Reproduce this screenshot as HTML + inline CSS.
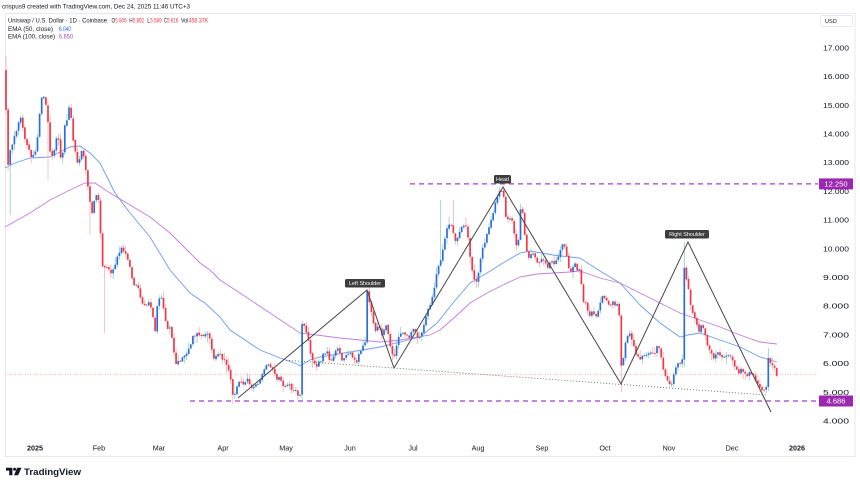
<!DOCTYPE html>
<html><head><meta charset="utf-8">
<style>
html,body{margin:0;padding:0;background:#fff;width:860px;height:486px;overflow:hidden;}
svg{display:block;font-family:"Liberation Sans",Arial,sans-serif;}
</style></head><body>
<svg id="c" width="860" height="486" viewBox="0 0 860 486" xmlns="http://www.w3.org/2000/svg">
<rect width="860" height="486" fill="#fff"/>
<text x="2" y="8.5" font-size="6.5" fill="#131722" textLength="188" lengthAdjust="spacingAndGlyphs">crispus9 created with TradingView.com, Dec 24, 2025 11:46 UTC+3</text>
<rect x="5.5" y="13.5" width="849.5" height="443" fill="none" stroke="#e6e8ee" stroke-width="1"/>

<!-- legend -->
<g font-size="6" fill="#131722">
<text x="8" y="22.5" textLength="99" lengthAdjust="spacingAndGlyphs">Uniswap / U.S. Dollar · 1D · Coinbase</text>
<text x="111.5" y="22.5" textLength="3.6" lengthAdjust="spacingAndGlyphs">O</text>
<text x="115.3" y="22.5" fill="#f23645" textLength="11.3" lengthAdjust="spacingAndGlyphs">5.806</text>
<text x="129.3" y="22.5" textLength="3.4" lengthAdjust="spacingAndGlyphs">H</text>
<text x="132.9" y="22.5" fill="#f23645" textLength="11.3" lengthAdjust="spacingAndGlyphs">5.862</text>
<text x="147.3" y="22.5" textLength="2.8" lengthAdjust="spacingAndGlyphs">L</text>
<text x="150.3" y="22.5" fill="#f23645" textLength="11.3" lengthAdjust="spacingAndGlyphs">5.589</text>
<text x="164" y="22.5" textLength="3" lengthAdjust="spacingAndGlyphs">C</text>
<text x="167" y="22.5" fill="#f23645" textLength="11.3" lengthAdjust="spacingAndGlyphs">5.616</text>
<text x="181" y="22.5" textLength="7.2" lengthAdjust="spacingAndGlyphs">Vol</text>
<text x="188.5" y="22.5" fill="#f23645" textLength="19.8" lengthAdjust="spacingAndGlyphs">458.37K</text>
<text x="8" y="30.8" textLength="45" lengthAdjust="spacingAndGlyphs">EMA (50, close)</text>
<text x="59" y="30.8" fill="#2962ff" textLength="12" lengthAdjust="spacingAndGlyphs">6.040</text>
<text x="8" y="38.6" textLength="47" lengthAdjust="spacingAndGlyphs">EMA (100, close)</text>
<text x="59" y="38.6" fill="#ab47bc" textLength="14" lengthAdjust="spacingAndGlyphs">6.650</text>
</g>

<!-- USD box -->
<rect x="820.5" y="15.5" width="32" height="11" rx="2" fill="#fff" stroke="#e6e8ee"/>
<text x="825" y="23" font-size="5.6" fill="#131722">USD</text>

<!-- y axis labels -->
<g font-size="7.6" fill="#131722" id="yax"></g>

<!-- time axis -->
<g font-size="7.2" fill="#131722" text-anchor="middle">
<text x="35" y="450.5" font-weight="bold">2025</text>
<text x="99" y="450.5">Feb</text>
<text x="159" y="450.5">Mar</text>
<text x="223" y="450.5">Apr</text>
<text x="286" y="450.5">May</text>
<text x="350" y="450.5">Jun</text>
<text x="413" y="450.5">Jul</text>
<text x="478" y="450.5">Aug</text>
<text x="542" y="450.5">Sep</text>
<text x="605" y="450.5">Oct</text>
<text x="669" y="450.5">Nov</text>
<text x="732" y="450.5">Dec</text>
<text x="797" y="450.5" font-weight="bold">2026</text>
</g>

<!-- current price line -->
<line x1="5" y1="374.3" x2="818" y2="374.3" stroke="#f7a1a8" stroke-width="0.8" stroke-dasharray="1,1.5"/>

<!-- EMA lines -->
<polyline fill="none" stroke="#c27ddc" stroke-width="0.9" points="5,227 30,213 50,200 70,190 85,183 95,183 110,193 130,205 150,217 170,233 190,253 200,263 210,270 220,280 240,293 270,313 300,333 340,338 380,342 400,340 430,335 440,330 455,317 470,303 487,293 503,285 520,277 537,274 553,273 570,272 580,271 600,278 620,283 640,293 660,303 680,313 700,320 720,327 740,335 760,342 777,344"/>
<polyline fill="none" stroke="#6b9bf2" stroke-width="0.9" points="5,168 15,163 30,158 50,157 60,152 70,147 80,146 90,153 100,163 115,193 130,213 150,237 170,270 190,293 200,300 205,303 220,317 230,330 260,350 280,358 297,364 300,366 310,360 320,357 350,352 380,347 400,342 420,337 437,323 453,303 470,283 487,273 503,263 520,253 530,251 553,255 570,257 580,258 600,271 620,283 640,305 660,323 680,337 688,335 700,333 720,340 740,347 760,357 777,362"/>

<!-- candles -->
<g id="cd"></g>

<!-- neckline -->
<line x1="283" y1="360" x2="766" y2="395" stroke="#666" stroke-width="0.9" stroke-dasharray="1,2"/>
<!-- pattern -->
<polyline fill="none" stroke="#474747" stroke-width="1" points="238,398 367,290 394,368 503,187 621,384 688,242 771,412"/>

<!-- dashed levels -->
<line x1="410" y1="183.9" x2="818" y2="183.9" stroke="#a83fcb" stroke-width="1.3" stroke-dasharray="5,4"/>
<line x1="190" y1="401" x2="818" y2="401" stroke="#a83fcb" stroke-width="1.3" stroke-dasharray="5,4"/>

<!-- pattern labels -->
<g font-size="5.4" fill="#fff" text-anchor="middle">
<rect x="345" y="279" width="40" height="8.5" rx="1.5" fill="#3d3d3d"/>
<text x="365" y="285.2">Left Shoulder</text>
<rect x="494" y="175" width="17" height="8.5" rx="1.5" fill="#3d3d3d"/>
<text x="502.5" y="181.2">Head</text>
<rect x="665" y="230" width="44" height="8.5" rx="1.5" fill="#3d3d3d"/>
<text x="687" y="236.2">Right Shoulder</text>
</g>

<!-- level boxes -->
<rect x="819" y="178.4" width="34" height="11" fill="#9c27b0"/>
<text x="836" y="186.6" font-size="7.6" fill="#fff" text-anchor="middle">12.250</text>
<rect x="819" y="395.5" width="34" height="11" fill="#9c27b0"/>
<text x="836" y="403.7" font-size="7.6" fill="#fff" text-anchor="middle">4.686</text>

<!-- TradingView logo -->
<g fill="#131722">
<path d="M6,467.8 h6.4 v7.4 h-3.2 v-4.6 h-3.2 z"/>
<circle cx="14.6" cy="469.3" r="1.5"/>
<path d="M17.2,467.8 h4.2 l-3.2,7.4 h-4.2 z"/>
</g>
<text x="24" y="475" font-size="9" font-weight="bold" fill="#131722" textLength="57" lengthAdjust="spacingAndGlyphs">TradingView</text>
</svg>
<script>
(function(){
var ns='';
for(var p=4;p<=17;p++){
 var y=363.3-(p-6)*28.7;
 ns+='<text x="823" y="'+(y+2.8).toFixed(1)+'" textLength="26" lengthAdjust="spacingAndGlyphs">'+p+'.000</text>';
}
document.getElementById('yax').innerHTML=ns;

var K=[[6,110],[8,168],[10,150],[14,140],[18,125],[21,118],[24,135],[28,150],[32,158],[36,150],[38,130],[41,100],[44,98],[47,105],[50,150],[53,160],[56,140],[58,137],[62,165],[64,130],[67,118],[69,106],[71,115],[74,150],[78,162],[82,150],[86,170],[89,195],[92,215],[95,195],[98,192],[101,240],[103,270],[106,268],[110,272],[114,268],[118,255],[122,248],[126,252],[129,265],[133,282],[137,285],[141,300],[145,307],[150,303],[155,330],[158,300],[162,298],[166,325],[170,330],[173,345],[176,363],[180,360],[184,355],[188,350],[192,340],[196,333],[200,336],[204,338],[208,333],[212,350],[215,360],[219,352],[222,362],[226,362],[230,372],[233,398],[236,390],[240,382],[244,385],[248,380],[252,388],[256,385],[260,380],[264,370],[268,363],[272,367],[276,378],[280,380],[284,385],[288,383],[292,390],[296,392],[300,395],[302,322],[305,325],[308,340],[311,355],[314,362],[317,365],[320,362],[323,355],[326,350],[330,360],[334,355],[338,348],[342,360],[346,355],[350,350],[353,358],[356,362],[360,352],[365,345],[367,290],[370,305],[373,320],[376,330],[379,325],[382,335],[386,327],[389,338],[392,352],[395,357],[398,340],[401,335],[405,333],[409,340],[413,328],[417,335],[420,340],[423,325],[427,315],[431,300],[434,290],[437,272],[440,262],[443,250],[446,232],[449,225],[452,228],[455,240],[458,235],[462,228],[465,222],[468,240],[471,265],[474,280],[477,283],[480,265],[483,245],[486,238],[489,225],[492,215],[495,205],[498,195],[501,190],[503,188],[506,220],[509,218],[512,222],[515,240],[518,247],[520,210],[523,215],[526,250],[529,257],[532,250],[535,255],[538,262],[541,258],[544,262],[547,268],[550,260],[553,265],[556,262],[559,255],[562,243],[565,250],[568,265],[571,270],[574,262],[577,268],[580,270],[583,300],[586,305],[589,315],[592,312],[595,318],[598,310],[601,300],[604,297],[607,300],[610,310],[613,300],[616,305],[619,308],[621,367],[624,355],[627,335],[630,333],[633,345],[636,355],[639,360],[642,355],[645,358],[648,355],[651,350],[654,355],[657,347],[660,352],[663,370],[666,375],[669,387],[672,383],[675,372],[678,365],[682.5,360],[684,267],[687,280],[690,300],[693,312],[696,325],[699,330],[702,325],[705,332],[708,347],[711,355],[714,358],[717,352],[720,355],[723,357],[726,355],[729,357],[732,360],[735,365],[738,375],[741,368],[744,372],[747,377],[750,373],[753,375],[756,380],[759,385],[762,390],[766,390],[768,355],[771,362],[774,367],[777,374]];
function f(x){
 if(x<=K[0][0])return K[0][1];
 for(var j=1;j<K.length;j++){
  if(x<=K[j][0]){var a=K[j-1],b=K[j];return a[1]+(b[1]-a[1])*(x-a[0])/(b[0]-a[0]);}
 }
 return K[K.length-1][1];
}
var s=987654321;
function r(){s^=s<<13;s^=s>>>17;s^=s<<5;return ((s>>>0)%100000)/100000;}
var ov={};
function setO(x,h,l){var i=Math.round((x-6)/2.1);ov[i]={h:h,l:l};}
setO(6,56,null);setO(10.2,null,215);setO(48,null,180);setO(90,null,235);setO(104.7,null,333);
setO(232.8,null,404);setO(297.9,null,400);setO(440.7,200,null);setO(453.3,200,null);
setO(621.3,null,392);setO(684.3,242,null);setO(768.3,348,null);
var g='';var prev=70;
for(var i=0;i<368;i++){
 var x=6+i*2.1;
 var c=f(x)+(r()-0.5)*5;
 var o=(i==0)?70:prev+(r()-0.5)*1.2;
 if(i==0)c=110;
 var top=Math.min(o,c),bot=Math.max(o,c);
 var h=top-0.5-r()*r()*8,l=bot+0.5+r()*r()*8;
 if(ov[i]){if(ov[i].h!=null)h=Math.min(h,ov[i].h);if(ov[i].l!=null)l=Math.max(l,ov[i].l);}
 var up=c<o;
 if(bot-top<0.9)bot=top+0.9;
 g+='<rect x="'+(x-0.35).toFixed(2)+'" y="'+h.toFixed(2)+'" width="0.7" height="'+(l-h).toFixed(2)+'" fill="'+(up?'#7fcabe':'#f6a5ad')+'"/>';
 g+='<rect x="'+(x-0.85).toFixed(2)+'" y="'+top.toFixed(2)+'" width="1.7" height="'+(bot-top).toFixed(2)+'" fill="'+(up?'#2a6de0':'#f23645')+'"/>';
 prev=c;
}
document.getElementById('cd').innerHTML=g;
})();
</script>
</body></html>
